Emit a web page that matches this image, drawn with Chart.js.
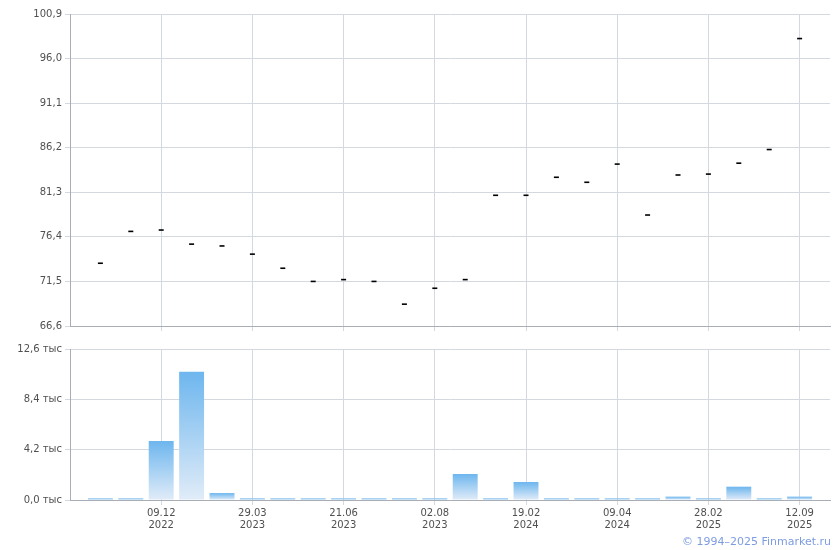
<!DOCTYPE html>
<html>
<head>
<meta charset="utf-8">
<script src="https://cdn.jsdelivr.net/npm/chart.js@4/dist/chart.umd.min.js"></script>
<style>
  body { margin: 0; background: #fff; }
  #wrap { position: relative; width: 840px; height: 550px; }
  #priceBox { position: absolute; left: 0; top: 0; width: 840px; height: 336px; }
  #volBox { position: absolute; left: 0; top: 336px; width: 840px; height: 214px; }
  #copy { position: absolute; right: 9px; top: 535px; font: 11px "DejaVu Sans", Verdana, sans-serif; color: #7d9ce0; }
</style>
</head>
<body>
<div id="wrap">
  <div id="priceBox"><canvas id="priceChart"></canvas></div>
  <div id="volBox"><canvas id="volChart"></canvas></div>
  <div id="copy">© 1994–2025 Finmarket.ru</div>
</div>
<script>
// цены (по порядку торговых дней)
const prices = [73.5, 77.0, 77.15, 75.6, 75.4, 74.5, 72.95, 71.5, 71.7, 71.5, 69.0, 70.75,
                71.7, 80.97, 80.97, 82.95, 82.4, 84.4, 78.8, 83.2, 83.3, 84.5, 86.0, 98.2];
// объёмы, шт.
const volumes = [150, 150, 4920, 10700, 580, 150, 150, 150, 150, 150, 150, 150,
                 2170, 150, 1500, 150, 150, 150, 150, 280, 150, 1110, 150, 280];
const priceTicks = [66.6, 71.5, 76.4, 81.3, 86.2, 91.1, 96.0, 100.9];
const volTicks = [0, 4200, 8400, 12600];
const dateTickPos = [3, 6, 9, 12, 15, 18, 21, 24];
const dateTickLabels = [['09.12', '2022'], ['29.03', '2023'], ['21.06', '2023'], ['02.08', '2023'],
                        ['19.02', '2024'], ['09.04', '2024'], ['28.02', '2025'], ['12.09', '2025']];

const gridColor = '#d3d9de';
const axisColor = '#a9aeb6';
const textColor = '#505050';
const font = { family: '"DejaVu Sans", Verdana, sans-serif', size: 10 };

const fmt = v => v.toFixed(1).replace('.', ',');

const xAxis = (showLabels) => ({
    type: 'linear',
    min: 0,
    max: prices.length + 1,
    offset: false,
    afterBuildTicks: s => { s.ticks = dateTickPos.map(v => ({ value: v })); },
    afterFit: s => { s.height = showLabels ? 50 : 10; },
    grid: { color: gridColor, tickLength: 5, offset: false },
    border: { color: axisColor },
    ticks: {
        display: showLabels,
        autoSkip: false,
        maxRotation: 0,
        padding: 2,
        color: textColor,
        font: font,
        callback: (v, i) => dateTickLabels[i]
    }
});

const yAxis = (ticks, fmtFn) => ({
    min: ticks[0],
    max: ticks[ticks.length - 1],
    afterBuildTicks: s => { s.ticks = ticks.map(v => ({ value: v })); },
    afterFit: s => { s.width = 70; },
    grid: { color: gridColor, tickLength: 5 },
    border: { color: axisColor },
    ticks: { padding: 3, color: textColor, font: font, callback: v => fmtFn(v) }
});

new Chart(document.getElementById('priceChart'), {
    type: 'line',
    data: {
        datasets: [{
            data: prices.map((p, i) => ({ x: i + 1, y: p })),
            showLine: false,
            pointStyle: 'line',
            pointRadius: 2.5,
            pointBorderWidth: 1.6,
            pointBorderColor: '#000',
            pointBackgroundColor: '#000'
        }]
    },
    options: {
        responsive: true,
        maintainAspectRatio: false,
        animation: false,
        layout: { padding: { top: 14, right: 10, left: 0, bottom: 0 } },
        plugins: { legend: { display: false }, tooltip: { enabled: false } },
        scales: { x: xAxis(false), y: yAxis(priceTicks, fmt) }
    }
});

const barFill = (ctx) => {
    const chart = ctx.chart;
    if (!chart.chartArea || ctx.type !== 'data') return '#8cc4f0';
    const y = chart.scales.y;
    const top = y.getPixelForValue(ctx.raw.y);
    const bottom = y.getPixelForValue(0);
    if (bottom - top < 3) return '#93c6ef';
    const g = chart.ctx.createLinearGradient(0, top, 0, bottom);
    g.addColorStop(0, '#6db6ee');
    g.addColorStop(1, '#e1ecf8');
    return g;
};

new Chart(document.getElementById('volChart'), {
    type: 'bar',
    data: {
        datasets: [{
            data: volumes.map((v, i) => ({ x: i + 1, y: v })),
            backgroundColor: barFill,
            borderWidth: 0,
            barPercentage: 0.82,
            categoryPercentage: 1
        }]
    },
    options: {
        responsive: true,
        maintainAspectRatio: false,
        animation: false,
        layout: { padding: { top: 13, right: 10, left: 0, bottom: 0 } },
        plugins: { legend: { display: false }, tooltip: { enabled: false } },
        scales: { x: xAxis(true), y: yAxis(volTicks, v => fmt(v / 1000) + ' тыс') }
    }
});
</script>
</body>
</html>
